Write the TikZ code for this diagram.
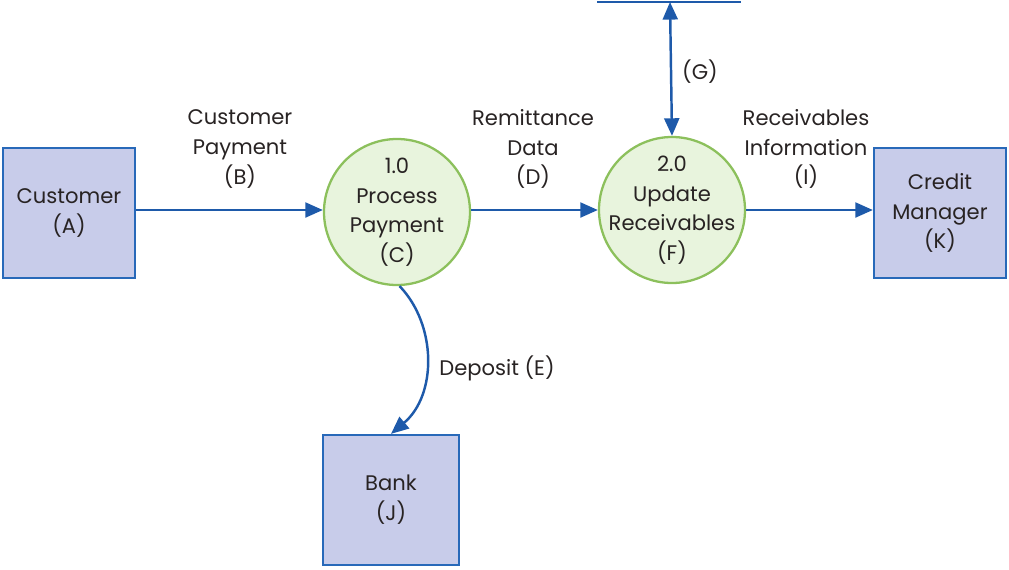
\documentclass[tikz,border=0pt]{standalone}
\usepackage{fontspec}
\setmainfont{Poppins}
\usetikzlibrary{arrows.meta}
\definecolor{boxfill}{RGB}{200,204,234}
\definecolor{boxline}{RGB}{40,105,185}
\definecolor{circfill}{RGB}{232,244,221}
\definecolor{circline}{RGB}{140,192,92}
\definecolor{flow}{RGB}{30,90,170}
\definecolor{txt}{RGB}{40,35,35}
\newcommand\ctrtext[1]{\makebox[0pt]{\begin{tabular}{@{}c@{}}#1\end{tabular}}}
\begin{document}
\begin{tikzpicture}[x=0.02cm,y=-0.02cm,
  every node/.style={font=\fontsize{12}{17}\selectfont, text=txt, align=center},
  entity/.style={draw=boxline, line width=1.3pt, fill=boxfill, minimum width=132*0.02cm, minimum height=130*0.02cm, inner sep=0pt},
  proc/.style={circle, draw=circline, line width=1.3pt, fill=circfill, minimum size=146*0.02cm, inner sep=0pt},
  flowline/.style={draw=flow, line width=1.4pt, -{Triangle[length=10pt,width=8.5pt]}},
  lbl/.style={inner sep=1pt}]
\useasboundingbox (0,0) rectangle (1009,569);
\node[entity] (A) at (69,213) {Customer\\(A)};
\node[proc] (C) at (397,212) {\ctrtext{1.0\\Process\\Payment\\(C)}};
\node[proc] (F) at (672,210) {\ctrtext{2.0\\Update\\Receivables\\(F)}};
\node[entity] (K) at (940,213) {Credit\\Manager\\(K)};
\node[entity, minimum width=136*0.02cm] (J) at (391,500) {Bank\\(J)};
\coordinate (S1) at (597,2);
\coordinate (S2) at (741,2);
\coordinate (G) at (670,2);
\draw[draw=flow, line width=1.4pt] (S1) -- (S2);
\draw[flowline, {Triangle[length=10pt,width=8.5pt]}-{Triangle[length=10pt,width=8.5pt]}] (G) -- (F.north);
\draw[flowline] (A.east |- 0,210) -- (C.west |- 0,210);
\draw[flowline] (C.east |- 0,210) -- (F.west |- 0,210);
\draw[flowline] (F.east |- 0,210) -- (K.west |- 0,210);
\draw[flowline] (C.-88) .. controls (437,325) and (437,395) .. (J.north);
\node[lbl] (lB) at (240,149) {Customer\\Payment\\(B)};
\node[lbl] (lD) at (533,149) {Remittance\\Data\\(D)};
\node[lbl] (lI) at (806,149) {Receivables\\Information\\(I)};
\node[lbl] (lG) at (700,72) {(G)};
\node[lbl] (lE) at (497,368) {Deposit (E)};
\end{tikzpicture}
\end{document}
